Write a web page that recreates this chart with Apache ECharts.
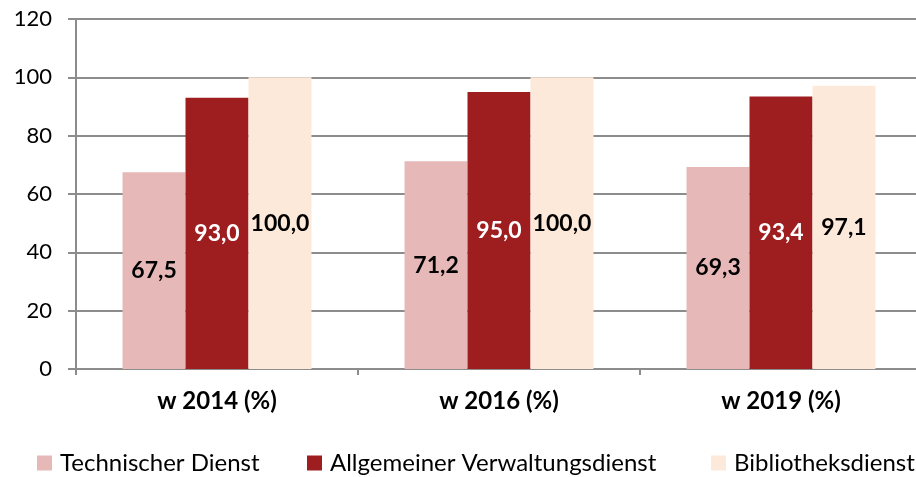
<!DOCTYPE html>
<html>
<head>
<meta charset="utf-8">
<script src="https://cdn.jsdelivr.net/npm/echarts@6/dist/echarts.min.js"></script>
<style>
  html, body { margin: 0; padding: 0; background: #ffffff; overflow: hidden; }
  #chart { width: 922px; height: 477px; }
</style>
</head>
<body>
<div id="chart"></div>
<script>
const categories = ['w 2014 (%)', 'w 2016 (%)', 'w 2019 (%)']
const seriesNames = ['Technischer Dienst', 'Allgemeiner Verwaltungsdienst', 'Bibliotheksdienst']
const technischer = [67.5, 71.2, 69.3]
const verwaltung = [93.0, 95.0, 93.4]
const bibliothek = [100.0, 100.0, 97.1]
const yTicks = [0, 20, 40, 60, 80, 100, 120]

const colors = ['#e6b9b8', '#9e1e20', '#fde9d9']
const labelColors = ['#000000', '#ffffff', '#000000']
const fontFamily = 'Lato, "Open Sans", sans-serif'
const gridColor = '#8c8c8c'

const chart = echarts.init(document.getElementById('chart'), null, { renderer: 'canvas' })

const makeSeries = (name, data, idx) => ({
  name,
  type: 'bar',
  data,
  barGap: '0%',
  barCategoryGap: '33%',
  itemStyle: { color: colors[idx] },
  label: {
    show: true,
    position: 'inside',
    color: labelColors[idx],
    fontFamily,
    fontWeight: 'bold',
    fontSize: 23,
    formatter: (p) => p.value.toFixed(1).replace('.', ',')
  },
  emphasis: { disabled: true }
})

const legendLefts = [37, 307, 711]

chart.setOption({
  animation: false,
  grid: {
    left: 76,
    right: 0,
    top: 19,
    bottom: 108
  },
  legend: seriesNames.map((name, i) => ({
    data: [name],
    left: legendLefts[i],
    top: 451,
    padding: 0,
    itemWidth: 15,
    itemHeight: 15,
    itemGap: 0,
    icon: 'rect',
    textStyle: {
      fontFamily,
      fontSize: 24,
      color: '#000000',
      padding: [0, 0, 0, 3]
    }
  })),
  xAxis: {
    type: 'category',
    data: categories,
    axisLine: { lineStyle: { color: gridColor, width: 2 } },
    axisTick: { show: true, length: 6, lineStyle: { color: gridColor, width: 2 } },
    axisLabel: {
      margin: 20,
      color: '#000000',
      fontFamily,
      fontWeight: 'bold',
      fontSize: 24
    }
  },
  yAxis: {
    type: 'value',
    min: yTicks[0],
    max: yTicks[yTicks.length - 1],
    interval: 20,
    axisLine: { show: true, lineStyle: { color: gridColor, width: 2 } },
    axisTick: { show: true, length: 8, lineStyle: { color: gridColor, width: 2 } },
    splitLine: { lineStyle: { color: gridColor, width: 2 } },
    axisLabel: {
      margin: 24,
      color: '#000000',
      fontFamily,
      fontSize: 22
    }
  },
  series: [
    makeSeries(seriesNames[0], technischer, 0),
    makeSeries(seriesNames[1], verwaltung, 1),
    makeSeries(seriesNames[2], bibliothek, 2)
  ]
})
</script>
</body>
</html>
